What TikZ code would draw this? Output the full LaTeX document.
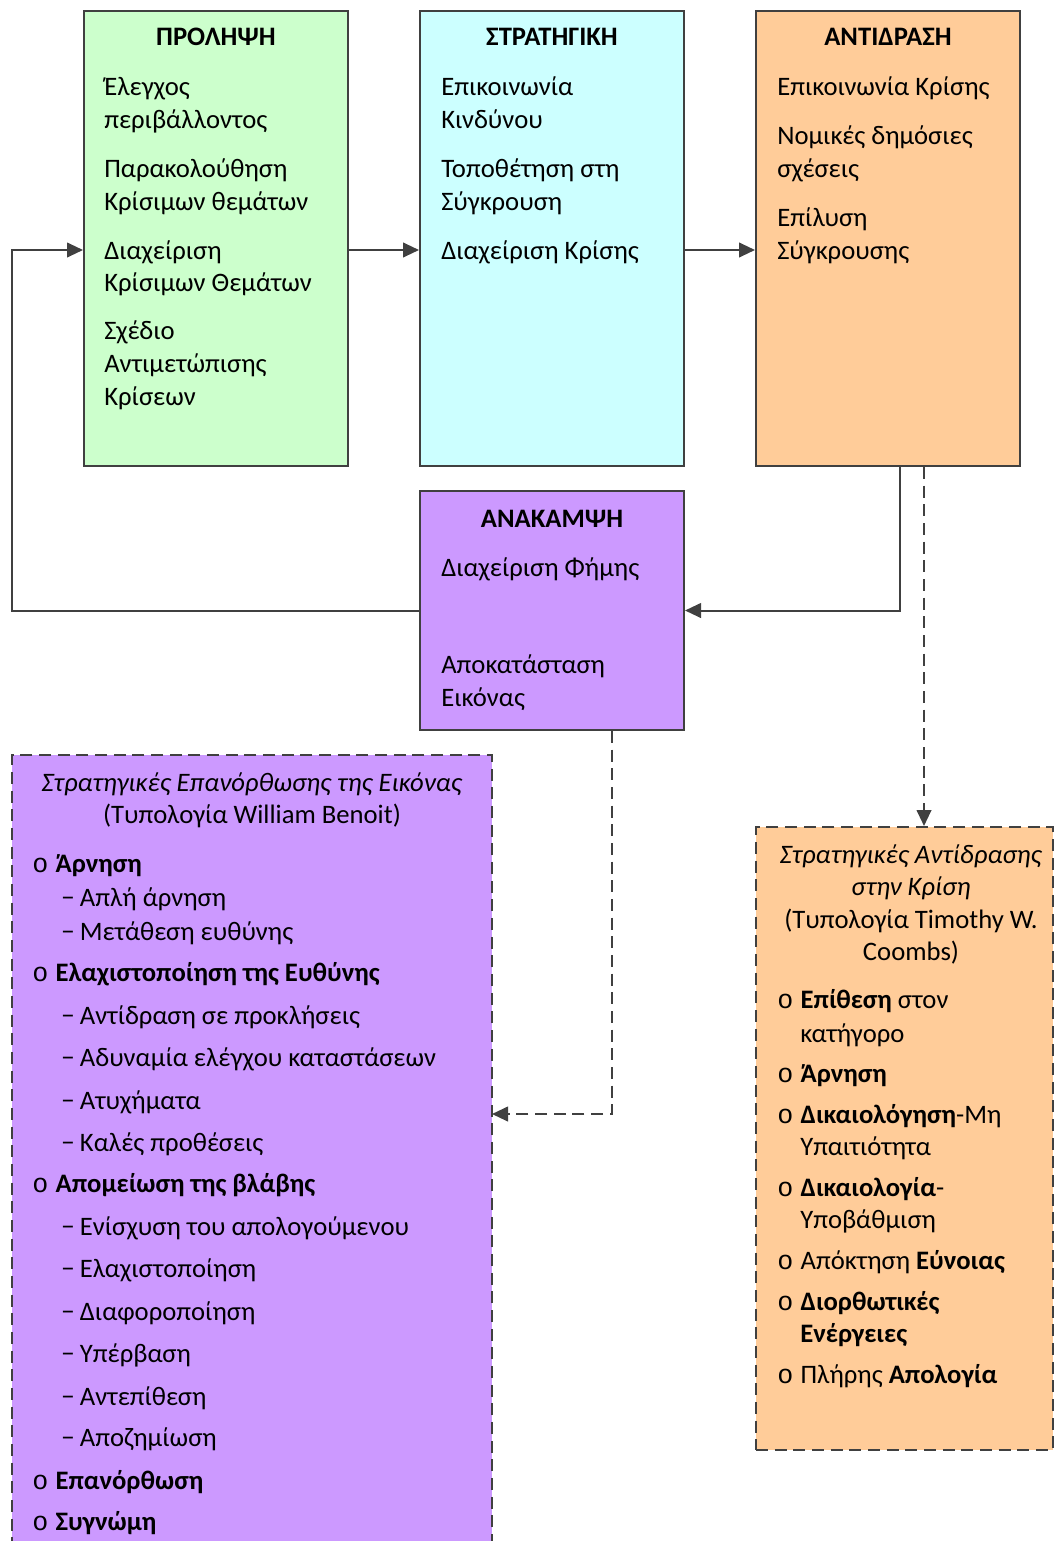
\documentclass[tikz,border=0pt]{standalone}
\usepackage{fontspec}
\setmainfont{Carlito}
\newfontfamily\bulletfont{Liberation Mono}
\usetikzlibrary{arrows.meta}
\definecolor{edgegray}{HTML}{404040}
\definecolor{prolgreen}{HTML}{CCFFCC}
\definecolor{stratcyan}{HTML}{CCFFFF}
\definecolor{antidorange}{HTML}{FFCC99}
\definecolor{anakpurple}{HTML}{CC99FF}
\newcommand\bul{\makebox[17.5pt][l]{\bulletfont o}}
\newcommand\subdash{\makebox[14pt][l]{−}}
\tikzset{
  phase/.style={draw=edgegray, line width=1.5pt, minimum width=198pt, inner sep=0pt},
  typology/.style={draw=edgegray, line width=1.5pt, dash pattern=on 9pt off 5pt, inner sep=0pt},
  head/.style={anchor=base, inner sep=0pt, font=\fontsize{20}{25}\selectfont\bfseries},
  entry/.style={anchor=base west, inner sep=0pt},
  link/.style={draw=edgegray, line width=1.5pt, -{Triangle[length=12pt, width=11pt]}},
  dlink/.style={link, dash pattern=on 9pt off 5pt},
}

\begin{document}
\begin{tikzpicture}[x=0.75pt, y=-0.75pt, every node/.append style={font=\fontsize{20}{25}\selectfont}]
  \path[use as bounding box, clip] (0,0) rectangle (1056,1541);

  % the four phases
  \node[phase, fill=prolgreen, minimum height=341.25pt] (prol) at (216,238.5) {};
  \node[phase, fill=stratcyan, minimum height=341.25pt] (strat) at (552,238.5) {};
  \node[phase, fill=antidorange, minimum height=341.25pt] (antid) at (888,238.5) {};
  \node[phase, fill=anakpurple, minimum height=179.25pt] (anak) at (552,610.5) {};

  % the two typologies
  \node[typology, fill=anakpurple, minimum width=360pt, minimum height=611.25pt] (benoit) at (252,1162.5) {};
  \node[typology, fill=antidorange, minimum width=222.75pt, minimum height=467.25pt] (coombs) at (904.5,1138.5) {};

  \node[head] (prol-h) at (216,46) {ΠΡΟΛΗΨΗ};
  \node[head] (strat-h) at (552,46) {ΣΤΡΑΤΗΓΙΚΗ};
  \node[head] (antid-h) at (888,46) {ΑΝΤΙΔΡΑΣΗ};
  \node[head] (anak-h) at (552,527) {ΑΝΑΚΑΜΨΗ};

  \foreach \y/\t [count=\i] in {96/Έλεγχος, 129/περιβάλλοντος, 177/Παρακολούθηση,
      210/Κρίσιμων θεμάτων, 259/Διαχείριση, 291/Κρίσιμων Θεμάτων, 339/Σχέδιο,
      372/Αντιμετώπισης, 405/Κρίσεων}
    \node[entry] (prol-\i) at (104,\y) {\t};
  \foreach \y/\t [count=\i] in {96/Επικοινωνία, 129/Κινδύνου, 177/Τοποθέτηση στη,
      210/Σύγκρουση, 259/Διαχείριση Κρίσης}
    \node[entry] (strat-\i) at (441,\y) {\t};
  \foreach \y/\t [count=\i] in {96/Επικοινωνία Κρίσης, 145/Νομικές δημόσιες,
      177/σχέσεις, 226/Επίλυση, 259/Σύγκρουσης}
    \node[entry] (antid-\i) at (777,\y) {\t};
  \foreach \y/\t [count=\i] in {576/Διαχείριση Φήμης, 673/Αποκατάσταση, 706/Εικόνας}
    \node[entry] (anak-\i) at (441,\y) {\t};

  % Benoit
  \node[anchor=base, inner sep=0pt] (benoit-h1) at (252,791) {\textit{Στρατηγικές Επανόρθωσης της Εικόνας}};
  \node[anchor=base, inner sep=0pt] (benoit-h2) at (252,823) {(Τυπολογία William Benoit)};
  \foreach \y/\t [count=\i] in {872/Άρνηση, 981/Ελαχιστοποίηση της Ευθύνης,
      1192/Απομείωση της βλάβης, 1489/Επανόρθωση, 1530/Συγνώμη}
    \node[entry] (benoit-b\i) at (32,\y) {\bul\textbf{\t}};
  \foreach \y/\t [count=\i] in {906/Απλή άρνηση, 940/Μετάθεση ευθύνης,
      1024/Αντίδραση σε προκλήσεις, 1066/Αδυναμία ελέγχου καταστάσεων,
      1109/Ατυχήματα, 1151/Καλές προθέσεις, 1235/Ενίσχυση του απολογούμενου,
      1277/Ελαχιστοποίηση, 1320/Διαφοροποίηση, 1362/Υπέρβαση,
      1405/Αντεπίθεση, 1446/Αποζημίωση}
    \node[entry] (benoit-s\i) at (61,\y) {\subdash\t};

  % Coombs
  \foreach \y/\t [count=\i] in {863/{\textit{Στρατηγικές Αντίδρασης}}, 895/{\textit{στην Κρίση}},
      928/{(Τυπολογία Timothy W.}, 960/{Coombs)}}
    \node[anchor=base, inner sep=0pt] (coombs-h\i) at (911,\y) {\t};
  \foreach \y/\t [count=\i] in {1008/{\textbf{Επίθεση} στον}, 1082/{\textbf{Άρνηση}},
      1123/{\textbf{Δικαιολόγηση}-Μη}, 1196/{\textbf{Δικαιολογία}-},
      1269/{Απόκτηση \textbf{Εύνοιας}}, 1310/{\textbf{Διορθωτικές}},
      1383/{Πλήρης \textbf{Απολογία}}}
    \node[entry] (coombs-b\i) at (777,\y) {\bul\t};
  \foreach \y/\t [count=\i] in {1042/κατήγορο, 1155/Υπαιτιότητα, 1228/Υποβάθμιση,
      1342/{\textbf{Ενέργειες}}}
    \node[entry] (coombs-c\i) at (800,\y) {\t};

  % connectors
  \coordinate (row) at (0,250);
  \coordinate (ret) at (12,250);
  \coordinate (benoit-in) at (492,1114);
  \draw[link] (prol.east |- row) -- (strat.west |- row);
  \draw[link] (strat.east |- row) -- (antid.west |- row);
  \draw[link] ([xshift=9pt]antid.south) |- (anak.east);
  \draw[link] (anak.west) -| (ret) -- (prol.west |- ret);
  \draw[dlink] ([xshift=27pt]antid.south) -- ([xshift=27pt]antid.south |- coombs.north);
  \draw[dlink] ([xshift=45pt]anak.south) |- (benoit-in);
\end{tikzpicture}
\end{document}
